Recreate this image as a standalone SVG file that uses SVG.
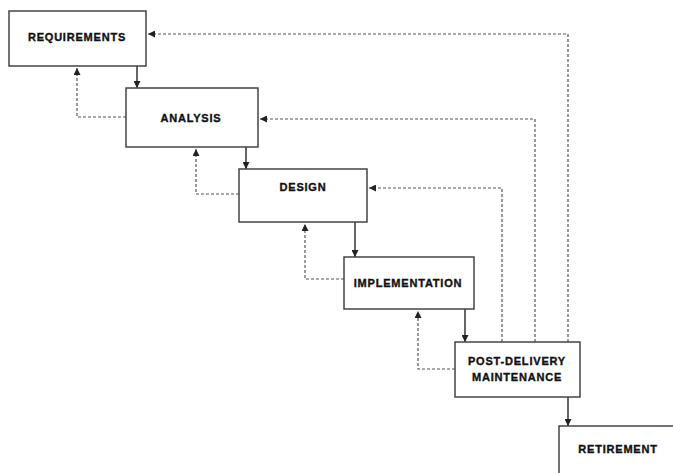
<svg xmlns="http://www.w3.org/2000/svg" width="673" height="473" viewBox="0 0 673 473">
<defs>
<marker id="ah" viewBox="0 0 8 8" refX="8" refY="4" markerWidth="7" markerHeight="7" markerUnits="userSpaceOnUse" orient="auto">
<path d="M0,0 L8,4 L0,8 Z" fill="#222"/>
</marker>
<style>
.box{fill:#fff;stroke:#444;stroke-width:1.5}
.lbl{font-family:"Liberation Sans",Arial,sans-serif;font-weight:bold;font-size:11px;letter-spacing:0.8px;fill:#111;stroke:#111;stroke-width:0.35;text-anchor:middle}
.solid{fill:none;stroke:#333;stroke-width:1.5}
.dash{fill:none;stroke:#555;stroke-width:1.2;stroke-dasharray:3 2}
</style>
</defs>
<rect width="673" height="473" fill="#fff"/>
<g id="connectors">
<path class="solid" d="M137,66 V88" marker-end="url(#ah)"/>
<path class="solid" d="M246,147 V169" marker-end="url(#ah)"/>
<path class="solid" d="M355,222 V257" marker-end="url(#ah)"/>
<path class="solid" d="M465,309 V342" marker-end="url(#ah)"/>
<path class="solid" d="M568,397 V426" marker-end="url(#ah)"/>
<path class="dash" d="M126,117 H77 V68" marker-end="url(#ah)"/>
<path class="dash" d="M239,194 H196 V149" marker-end="url(#ah)"/>
<path class="dash" d="M344,279 H305 V224" marker-end="url(#ah)"/>
<path class="dash" d="M455,369 H418 V311" marker-end="url(#ah)"/>
<path class="dash" d="M568,342 V34 H148" marker-end="url(#ah)"/>
<path class="dash" d="M535,342 V119 H260" marker-end="url(#ah)"/>
<path class="dash" d="M502,342 V188 H369" marker-end="url(#ah)"/>
</g>
<g id="requirements">
<rect class="box" x="9" y="11" width="137" height="55"/>
<text class="lbl" x="77" y="41">REQUIREMENTS</text>
</g>
<g id="analysis">
<rect class="box" x="126" y="88" width="132" height="59"/>
<text class="lbl" x="191" y="122">ANALYSIS</text>
</g>
<g id="design">
<rect class="box" x="239" y="169" width="128" height="53"/>
<text class="lbl" x="303" y="191">DESIGN</text>
</g>
<g id="implementation">
<rect class="box" x="344" y="257" width="130" height="52"/>
<text class="lbl" x="408" y="287">IMPLEMENTATION</text>
</g>
<g id="maintenance">
<rect class="box" x="455" y="342" width="125" height="55"/>
<text class="lbl" x="517" y="365">POST-DELIVERY</text>
<text class="lbl" x="517" y="381">MAINTENANCE</text>
</g>
<g id="retirement">
<rect class="box" x="559" y="426" width="130" height="60"/>
<text class="lbl" x="618" y="453">RETIREMENT</text>
</g>
</svg>
